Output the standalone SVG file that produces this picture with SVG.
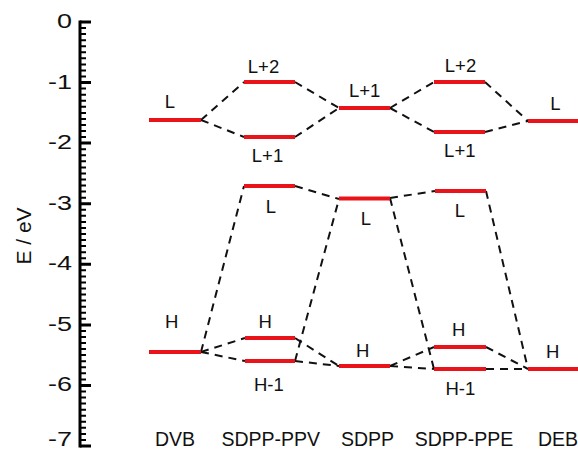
<svg xmlns="http://www.w3.org/2000/svg" width="578" height="451" viewBox="0 0 578 451">
<style>
text{font-family:"Liberation Sans",Arial,sans-serif;fill:#111}
.tick{font-size:19.5px;text-anchor:end}
.lbl{font-size:18.5px;text-anchor:middle}
.mol{font-size:19.5px;text-anchor:middle}
.lvl{stroke:#e8141a;stroke-width:4;fill:none}
.con{stroke:#111;stroke-width:2;stroke-dasharray:8 6;fill:none}
</style>
<rect width="578" height="451" fill="#fff"/>
<g id="axis">
<line x1="80" y1="20.5" x2="80" y2="447.5" stroke="#000" stroke-width="3"/>
<path stroke="#000" stroke-width="3" d="M80 22H91M80 82.6H91M80 143.1H91M80 203.7H91M80 264.3H91M80 324.9H91M80 385.4H91M80 446H91"/>
<path stroke="#000" stroke-width="2" d="M80 28.1h6M80 34.1h6M80 40.2h6M80 46.2h6M80 52.3h6M80 58.3h6M80 64.4h6M80 70.5h6M80 76.5h6M80 88.6h6M80 94.7h6M80 100.7h6M80 106.8h6M80 112.9h6M80 118.9h6M80 125h6M80 131h6M80 137.1h6M80 149.2h6M80 155.3h6M80 161.3h6M80 167.4h6M80 173.4h6M80 179.5h6M80 185.5h6M80 191.6h6M80 197.7h6M80 209.8h6M80 215.8h6M80 221.9h6M80 227.9h6M80 234h6M80 240.1h6M80 246.1h6M80 252.2h6M80 258.2h6M80 270.3h6M80 276.4h6M80 282.5h6M80 288.5h6M80 294.6h6M80 300.6h6M80 306.7h6M80 312.7h6M80 318.8h6M80 330.9h6M80 337h6M80 343h6M80 349.1h6M80 355.1h6M80 361.2h6M80 367.3h6M80 373.3h6M80 379.4h6M80 391.5h6M80 397.5h6M80 403.6h6M80 409.7h6M80 415.7h6M80 421.8h6M80 427.8h6M80 433.9h6M80 439.9h6"/>
<text class="tick" x="72" y="28" textLength="15" lengthAdjust="spacingAndGlyphs">0</text>
<text class="tick" x="72" y="88.6" textLength="24" lengthAdjust="spacingAndGlyphs">-1</text>
<text class="tick" x="72" y="149.1" textLength="24" lengthAdjust="spacingAndGlyphs">-2</text>
<text class="tick" x="72" y="209.7" textLength="24" lengthAdjust="spacingAndGlyphs">-3</text>
<text class="tick" x="72" y="270.3" textLength="24" lengthAdjust="spacingAndGlyphs">-4</text>
<text class="tick" x="72" y="330.9" textLength="24" lengthAdjust="spacingAndGlyphs">-5</text>
<text class="tick" x="72" y="391.4" textLength="24" lengthAdjust="spacingAndGlyphs">-6</text>
<text class="tick" x="72" y="446" textLength="24" lengthAdjust="spacingAndGlyphs">-7</text>
<text transform="translate(31,236) rotate(-90)" style="font-size:21px;text-anchor:middle">E / eV</text>
</g>
<g id="connectors">
<path class="con" d="M201 120L244 82M201 120L244 137M295 82L339 108M295 137L339 108M390 108L434 82M390 108L434 132M485 82L528 121M485 132L528 121"/>
<path class="con" d="M295 186L339 199M390 198L435 191M201 352L244 186M295 361L339 199M390 198L434 369M486 191L528 369"/>
<path class="con" d="M201 352L245 338M201 352L245 361M295 338L339 366M295 361L339 366M390 366L434 347M390 366L434 369M486 347L528 369M486 369L528 369"/>
</g>
<g id="DVB">
<line class="lvl" x1="149" y1="120" x2="201" y2="120"/>
<text class="lbl" x="170" y="108.3">L</text>
<line class="lvl" x1="149" y1="352" x2="201" y2="352"/>
<text class="lbl" x="171.7" y="328.3">H</text>
<text class="mol" x="175" y="445.7">DVB</text>
</g>
<g id="SDPP-PPV">
<line class="lvl" x1="244" y1="82" x2="295" y2="82"/>
<text class="lbl" x="263.5" y="72.6">L+2</text>
<line class="lvl" x1="244" y1="137" x2="295" y2="137"/>
<text class="lbl" x="267.5" y="161.6">L+1</text>
<line class="lvl" x1="244" y1="186" x2="295" y2="186"/>
<text class="lbl" x="271" y="212.6">L</text>
<line class="lvl" x1="245" y1="338" x2="295" y2="338"/>
<text class="lbl" x="265.3" y="328.3">H</text>
<line class="lvl" x1="245" y1="361" x2="295" y2="361"/>
<text class="lbl" x="268.8" y="390.6">H-1</text>
<text class="mol" x="270.7" y="445.7">SDPP-PPV</text>
</g>
<g id="SDPP">
<line class="lvl" x1="339" y1="108" x2="390" y2="108"/>
<text class="lbl" x="364.7" y="96.6">L+1</text>
<line class="lvl" x1="339" y1="198.5" x2="390" y2="198.5"/>
<text class="lbl" x="366" y="224.6">L</text>
<line class="lvl" x1="339" y1="366" x2="390" y2="366"/>
<text class="lbl" x="362.8" y="356.6">H</text>
<text class="mol" x="367.5" y="445.7">SDPP</text>
</g>
<g id="SDPP-PPE">
<line class="lvl" x1="434" y1="82" x2="485" y2="82"/>
<text class="lbl" x="460.5" y="71.6">L+2</text>
<line class="lvl" x1="434" y1="132" x2="485" y2="132"/>
<text class="lbl" x="459.8" y="156.6">L+1</text>
<line class="lvl" x1="435" y1="191" x2="486" y2="191"/>
<text class="lbl" x="460" y="217.3">L</text>
<line class="lvl" x1="434" y1="347" x2="486" y2="347"/>
<text class="lbl" x="458.8" y="335.6">H</text>
<line class="lvl" x1="434" y1="369" x2="486" y2="369"/>
<text class="lbl" x="460.3" y="394.6">H-1</text>
<text class="mol" x="464" y="445.7">SDPP-PPE</text>
</g>
<g id="DEB">
<line class="lvl" x1="528" y1="121" x2="578" y2="121"/>
<text class="lbl" x="555.5" y="109.6">L</text>
<line class="lvl" x1="528" y1="369" x2="578" y2="369"/>
<text class="lbl" x="552.8" y="358.3">H</text>
<text class="mol" x="558" y="445.7">DEB</text>
</g>
</svg>
